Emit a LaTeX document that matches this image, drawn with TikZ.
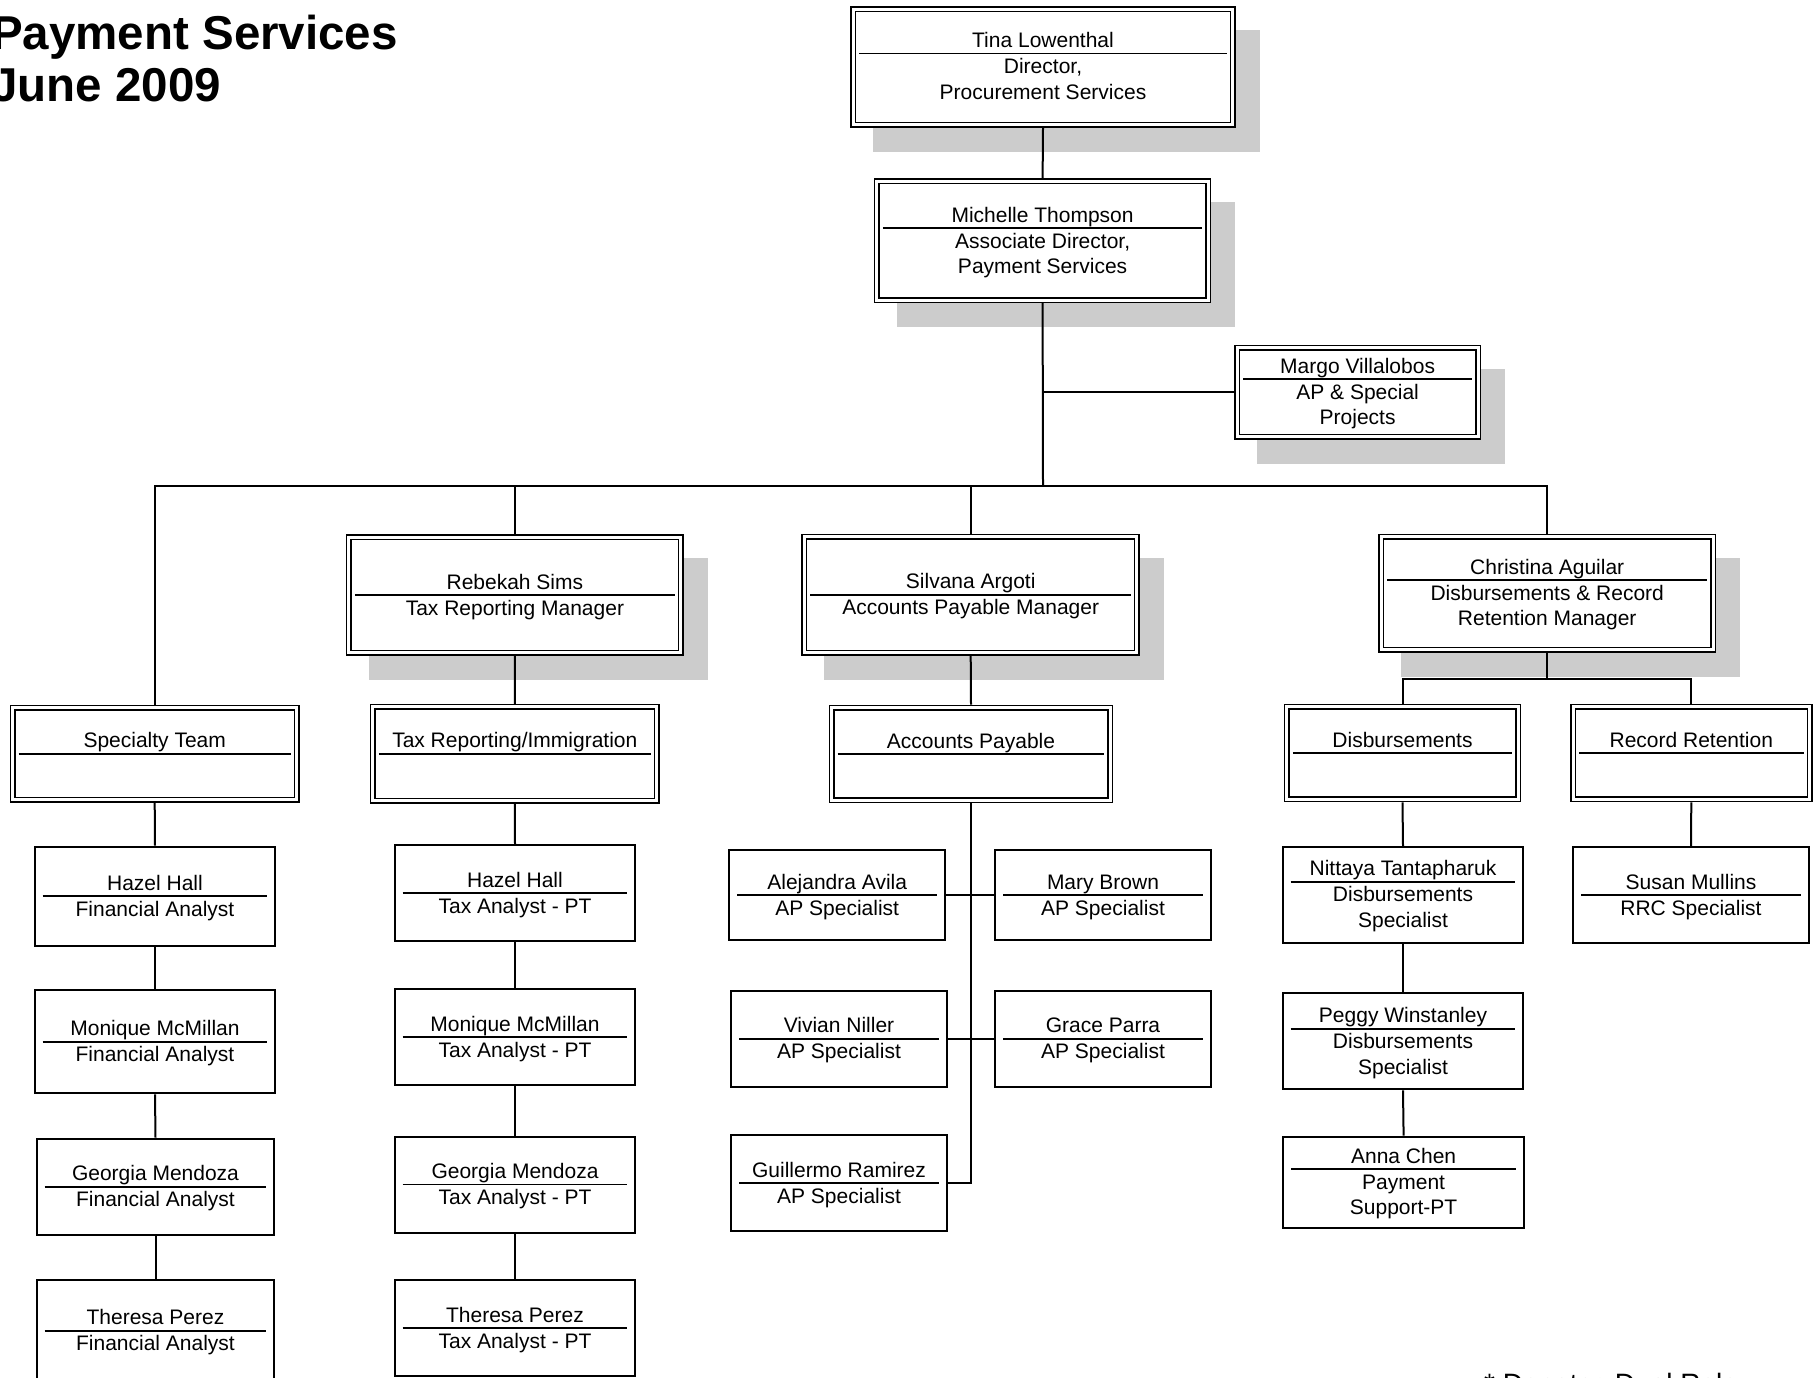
\documentclass[tikz,border=0pt]{standalone}
\usepackage{fontspec}
\setmainfont{Liberation Sans}
\usetikzlibrary{calc,backgrounds}
\definecolor{shadowgray}{gray}{0.8}

% Trennlinie, Name darueber, Funktion darunter
\newcommand{\boxtext}[4]{%
  \draw[sepline] ($(#1.west)+(9,#2)$) -- ($(#1.east)+(-9,#2)$);
  \node[anchor=base] (#1-n) at ($(#1.center)+(0,#2-6)$) {#3};
  \node[anchor=base] (#1-t) at ($(#1.center)+(0,#2+20)$) {\begin{tabular}[t]{@{}c@{}}#4\end{tabular}};
}

\begin{document}
\begin{tikzpicture}[x=1pt, y=-1pt,
  font=\fontsize{21}{25.5}\selectfont,
  wh/.style 2 args={minimum width=#1pt, minimum height=#2pt},
  lead/.style={rectangle, draw, double, line width=1.5pt, double distance=3pt, fill=white, inner sep=0pt, outer sep=3pt},
  staff/.style={rectangle, draw, line width=2pt, fill=white, inner sep=0pt},
  link/.style={line width=2pt},
  sepline/.style={line width=1.8pt}]
	\useasboundingbox (0,0) rectangle (1817,1377); % Bildrand

	\node[anchor=base west, inner sep=0pt, font=\fontsize{47.5}{53}\selectfont\bfseries] (title) at (-9,49) {Payment Services};
	\node[anchor=base west, inner sep=0pt, font=\fontsize{47.5}{53}\selectfont\bfseries] (date) at (-9,101.5) {June 2009};

	% Leitung
	\node[lead, wh={379.5}{115.5}] (tina) at (1043,67) {};
	\boxtext{tina}{-13.5}{Tina Lowenthal}{Director,\\Procurement Services}
	\node[lead, wh={331.6}{118.7}] (michelle) at (1042.6,240.8) {};
	\boxtext{michelle}{-12.7}{Michelle Thompson}{Associate Director,\\Payment Services}
	\node[lead, wh={241.2}{88.9}] (margo) at (1357.6,392.2) {};
	\boxtext{margo}{-13.2}{Margo Villalobos}{AP \& Special\\Projects}

	\node[lead, wh={332}{115.6}] (rebekah) at (514.9,595) {};
	\boxtext{rebekah}{0}{Rebekah Sims}{Tax Reporting Manager}
	\node[lead, wh={332.5}{116.3}] (silvana) at (970.7,594.8) {};
	\boxtext{silvana}{0}{Silvana Argoti}{Accounts Payable Manager}
	\node[lead, wh={332}{113.1}] (christina) at (1547.2,593.2) {};
	\boxtext{christina}{-13.2}{Christina Aguilar}{Disbursements \& Record\\Retention Manager}

	% Teams
	\node[lead, wh={284.2}{92.3}] (specialty) at (154.7,753.8) {};
	\boxtext{specialty}{0}{Specialty Team}{}
	\node[lead, wh={284}{93.9}] (taxrep) at (514.8,753.7) {};
	\boxtext{taxrep}{0}{Tax Reporting/Immigration}{}
	\node[lead, wh={278.8}{92.6}] (ap) at (971,754) {};
	\boxtext{ap}{0}{Accounts Payable}{}
	\node[lead, wh={231.1}{92.6}] (disb) at (1402.5,753) {};
	\boxtext{disb}{0}{Disbursements}{}
	\node[lead, wh={236.6}{92.6}] (record) at (1691.3,753) {};
	\boxtext{record}{0}{Record Retention}{}

	% Mitarbeiter
	\node[staff, wh={240.6}{99}] (hazelF) at (155,896.2) {};
	\boxtext{hazelF}{0}{Hazel Hall}{Financial Analyst}
	\node[staff, wh={240.6}{103}] (moniqueF) at (155,1041.8) {};
	\boxtext{moniqueF}{0}{Monique McMillan}{Financial Analyst}
	\node[staff, wh={237.6}{96}] (georgiaF) at (155.5,1186.6) {};
	\boxtext{georgiaF}{0}{Georgia Mendoza}{Financial Analyst}
	\node[staff, wh={237.6}{100.8}] (theresaF) at (155.5,1330.7) {};
	\boxtext{theresaF}{0}{Theresa Perez}{Financial Analyst}

	\node[staff, wh={240.6}{95.7}] (hazelT) at (515,893.2) {};
	\boxtext{hazelT}{0}{Hazel Hall}{Tax Analyst - PT}
	\node[staff, wh={240.6}{95.7}] (moniqueT) at (515,1037) {};
	\boxtext{moniqueT}{0}{Monique McMillan}{Tax Analyst - PT}
	\node[staff, wh={240.6}{96}] (georgiaT) at (515,1184.5) {};
	\boxtext{georgiaT}{0}{Georgia Mendoza}{Tax Analyst - PT}
	\node[staff, wh={240.6}{95.8}] (theresaT) at (515,1328.2) {};
	\boxtext{theresaT}{0}{Theresa Perez}{Tax Analyst - PT}

	\node[staff, wh={216.3}{90}] (alejandra) at (837.2,895) {};
	\boxtext{alejandra}{0}{Alejandra Avila}{AP Specialist}
	\node[staff, wh={216}{90}] (mary) at (1103,895) {};
	\boxtext{mary}{0}{Mary Brown}{AP Specialist}
	\node[staff, wh={216}{95.7}] (vivian) at (839,1038.8) {};
	\boxtext{vivian}{0}{Vivian Niller}{AP Specialist}
	\node[staff, wh={216}{95.7}] (grace) at (1103,1038.8) {};
	\boxtext{grace}{0}{Grace Parra}{AP Specialist}
	\node[staff, wh={216}{96}] (guillermo) at (839,1183) {};
	\boxtext{guillermo}{0}{Guillermo Ramirez}{AP Specialist}

	\node[staff, wh={240.6}{96.3}] (nittaya) at (1403,895.2) {};
	\boxtext{nittaya}{-13.5}{Nittaya Tantapharuk}{Disbursements\\Specialist}
	\node[staff, wh={240.6}{96}] (peggy) at (1403,1041.3) {};
	\boxtext{peggy}{-12.6}{Peggy Winstanley}{Disbursements\\Specialist}
	\node[staff, wh={240.7}{91.6}] (anna) at (1403.6,1182.5) {};
	\boxtext{anna}{-13.5}{Anna Chen}{Payment\\Support-PT}
	\node[staff, wh={235.4}{96.3}] (susan) at (1691,895.2) {};
	\boxtext{susan}{0}{Susan Mullins}{RRC Specialist}

	\node[anchor=base west, inner sep=0pt, font=\fontsize{28}{30}\selectfont] (note) at (1484,1393) {* Denotes Dual Role};

	% Schatten
	\begin{scope}[on background layer]
		\fill[shadowgray] ($(tina.north west)+(23,24)$) rectangle ($(tina.south east)+(24,24)$);
		\fill[shadowgray] ($(michelle.north west)+(23,24)$) rectangle ($(michelle.south east)+(24,24)$);
		\fill[shadowgray] ($(margo.north west)+(23,24)$) rectangle ($(margo.south east)+(24,24)$);
		\fill[shadowgray] ($(rebekah.north west)+(23,24)$) rectangle ($(rebekah.south east)+(24,24)$);
		\fill[shadowgray] ($(silvana.north west)+(23,24)$) rectangle ($(silvana.south east)+(24,24)$);
		\fill[shadowgray] ($(christina.north west)+(23,24)$) rectangle ($(christina.south east)+(24,24)$);
	\end{scope}

	% Linien
	\coordinate (bus) at (1043,486);
	\coordinate (dsplit) at (1547.2,679);
	\draw[link] (tina.south) -- (michelle.north);
	\draw[link] (michelle.south) -- (bus);
	\draw[link] (margo.west) -- (margo.west -| bus);
	\draw[link] (specialty.north) |- (bus) -| (christina.north);
	\draw[link] (rebekah.north) -- (rebekah.north |- bus);
	\draw[link] (silvana.north) -- (silvana.north |- bus);
	\draw[link] (rebekah.south) -- (taxrep.north);
	\draw[link] (silvana.south) -- (ap.north);
	\draw[link] (christina.south) -- (dsplit);
	\draw[link] (disb.north) |- (dsplit) -| (record.north);

	\draw[link] (specialty.south) -- (hazelF.north);
	\draw[link] (hazelF.south) -- (moniqueF.north);
	\draw[link] (moniqueF.south) -- (georgiaF.north);
	\draw[link] (georgiaF.south) -- (theresaF.north);

	\draw[link] (taxrep.south) -- (hazelT.north);
	\draw[link] (hazelT.south) -- (moniqueT.north);
	\draw[link] (moniqueT.south) -- (georgiaT.north);
	\draw[link] (georgiaT.south) -- (theresaT.north);

	\draw[link] (ap.south) |- (guillermo.east);
	\draw[link] (alejandra.east) -- (mary.west);
	\draw[link] (vivian.east) -- (grace.west);

	\draw[link] (disb.south) -- (nittaya.north);
	\draw[link] (nittaya.south) -- (peggy.north);
	\draw[link] (peggy.south) -- (anna.north);
	\draw[link] (record.south) -- (susan.north);

	%\draw[help lines] (0,0) grid (1817,1377);
\end{tikzpicture}
\end{document}
